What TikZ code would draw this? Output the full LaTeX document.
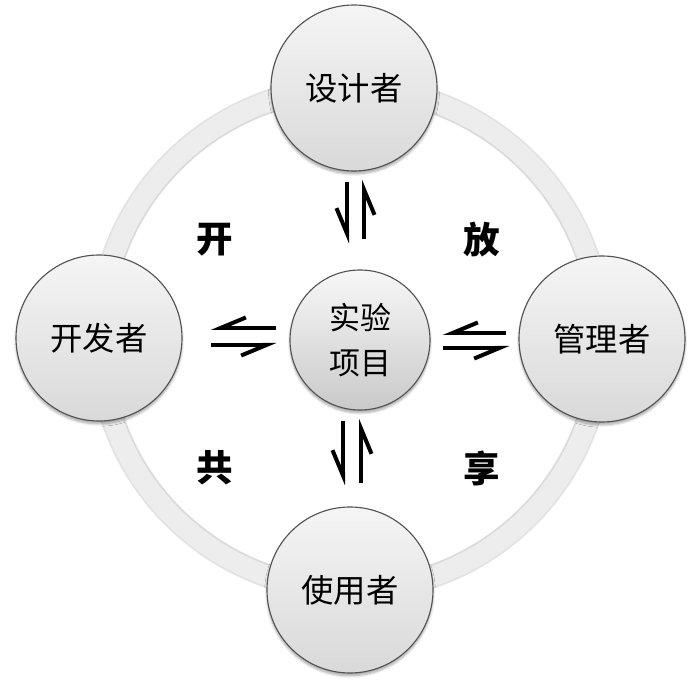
\documentclass[tikz,border=0pt]{standalone}
\usepackage{fontspec}
\newfontfamily\cjk{Noto Sans CJK SC}
\usepackage{tikz}
\usetikzlibrary{arrows.meta,shadows.blur}
\newcommand{\px}{0.025cm}
\tikzset{
  base/.style={align=center, text=black, font=\cjk\fontsize{23}{32}\selectfont},
  role/.style={base, circle, inner sep=0pt, minimum size=166*\px, draw=gray!65!black, thick,
    top color=gray!8, bottom color=gray!30, blur shadow={shadow xshift=0pt, shadow yshift=-2pt, shadow blur steps=6, shadow opacity=35}},
  core/.style={role, minimum size=140*\px, top color=gray!6, bottom color=gray!42, font=\cjk\fontsize{22}{32}\selectfont},
  word/.style={font=\cjk\bfseries\fontsize{26}{30}\selectfont, text=black},
  ring/.style={line width=23*\px, draw=gray!14},
  ringedge/.style={line width=1.2pt, draw=gray!28},
  harp/.style={line width=4*\px, draw=black, -{Straight Barb[right, length=18pt, width=15pt]}}
}
\begin{document}
\begin{tikzpicture}[x=\px, y=-\px]
  \useasboundingbox (0,0) rectangle (700,689);

  % Outer ring
  \coordinate (hub) at (350.5,339);
  \draw[ring] (hub) circle[radius=251];
  \draw[ringedge, draw=gray!22] (hub) circle[radius=262];
  \draw[ringedge] (hub) circle[radius=240];

  % Circles
  \node[role] (design) at (354,88) {设计者};
  \node[role] (dev) at (99,338) {开发者};
  \node[role] (admin) at (602,339) {管理者};
  \node[role] (user) at (350,590) {使用者};
  \node[core] (lab) at (360,340) {实验\\项目};

  % Words
  \node[word] (w1) at (215,240) {开};
  \node[word] (w2) at (482,240) {放};
  \node[word] (w3) at (215,468) {共};
  \node[word] (w4) at (482,468) {享};

  % Harpoons
  \draw[harp, shorten <=10*\px, shorten >=26*\px] ([xshift=-7*\px]design.south) -- ([xshift=-7*\px]design.south |- lab.north);
  \draw[harp, shorten <=30*\px, shorten >=8*\px] ([xshift=10*\px]design.south |- lab.north) -- ([xshift=10*\px]design.south);

  \draw[harp, shorten <=13*\px, shorten >=28*\px] ([yshift=12*\px]lab.west) -- ([yshift=12*\px]lab.west -| dev.east);
  \draw[harp, shorten <=28*\px, shorten >=13*\px] ([yshift=-5*\px]lab.west -| dev.east) -- ([yshift=-5*\px]lab.west);

  \draw[harp, shorten <=12*\px, shorten >=12*\px] ([yshift=7*\px]lab.east -| admin.west) -- ([yshift=7*\px]lab.east);
  \draw[harp, shorten <=12*\px, shorten >=9*\px] ([yshift=-8*\px]lab.east) -- ([yshift=-8*\px]lab.east -| admin.west);

  \draw[harp, shorten <=10*\px, shorten >=21*\px] ([xshift=-7*\px]user.north |- lab.south) -- ([xshift=-7*\px]user.north);
  \draw[harp, shorten <=23*\px, shorten >=8*\px] ([xshift=11*\px]user.north) -- ([xshift=11*\px]user.north |- lab.south);
\end{tikzpicture}
\end{document}
